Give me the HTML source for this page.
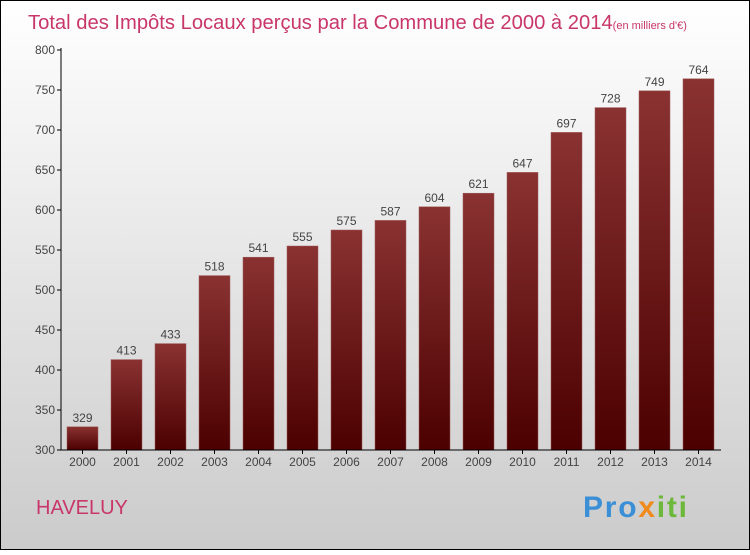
<!DOCTYPE html>
<html><head><meta charset="utf-8"><style>
body{margin:0;width:750px;height:550px;overflow:hidden;font-family:"Liberation Sans",sans-serif}
</style></head><body>
<svg id="c" width="750" height="550" xmlns="http://www.w3.org/2000/svg">
<defs>
<linearGradient id="bg" x1="0" y1="0" x2="0" y2="1"><stop offset="0" stop-color="#ffffff"/><stop offset="1" stop-color="#cbcbcb"/></linearGradient>
<linearGradient id="bar" x1="0" y1="0" x2="0" y2="1"><stop offset="0" stop-color="#8a3232"/><stop offset="1" stop-color="#4c0000"/></linearGradient>
</defs>
<rect x="0.5" y="0.5" width="749" height="549" fill="url(#bg)" stroke="#000"/>
<text x="28" y="29" font-size="20.2" fill="#c8366a">Total des Impôts Locaux perçus par la Commune de 2000 à 2014<tspan font-size="11">(en milliers d'€)</tspan></text>
<text x="36" y="514" font-size="20" fill="#c8366a">HAVELUY</text>
<text x="583" y="517" font-size="30" font-weight="bold" textLength="104"><tspan fill="#3b8fd6">Pro</tspan><tspan fill="#f08a1c">x</tspan><tspan fill="#6cb83a">iti</tspan></text>
<g id="g"></g>
</svg>
<script>
const categories=["2000","2001","2002","2003","2004","2005","2006","2007","2008","2009","2010","2011","2012","2013","2014"];
const values=[329,413,433,518,541,555,575,587,604,621,647,697,728,749,764];
const yTicks=[300,350,400,450,500,550,600,650,700,750,800];
const NS="http://www.w3.org/2000/svg";
const g=document.getElementById('g');
const y=v=>450-(v-300)*0.8;
const x=i=>82.5+i*44;
function mk(t,a){const e=document.createElementNS(NS,t);for(const k in a)e.setAttribute(k,a[k]);g.appendChild(e);return e;}
categories.forEach((c,i)=>{
 const r=mk('rect',{x:x(i)-15.5,y:y(values[i]),width:31,height:450-y(values[i]),fill:'url(#bar)',stroke:'#a05a5a','stroke-width':0.5});
 
 
 const t=mk('text',{x:x(i),y:y(values[i])-5,'text-anchor':'middle','font-size':12,fill:'#444'});t.textContent=values[i];
 
 
 const l=mk('text',{x:x(i),y:466,'text-anchor':'middle','font-size':12,fill:'#444'});l.textContent=c;
 
 
 mk('line',{x1:x(i),x2:x(i),y1:450,y2:454,stroke:'#000'});
});
yTicks.forEach(v=>{
 mk('line',{x1:57,x2:61,y1:y(v),y2:y(v),stroke:'#000'});
 const t=mk('text',{x:55,y:y(v)+4,'text-anchor':'end','font-size':12,fill:'#444'});t.textContent=v;
 
 
});
const ya=mk('line',{x1:61,x2:61,y1:48,y2:450,stroke:'#000'});


const xa=mk('line',{x1:61,x2:721,y1:450,y2:450,stroke:'#000'});


</script>
</body></html>
